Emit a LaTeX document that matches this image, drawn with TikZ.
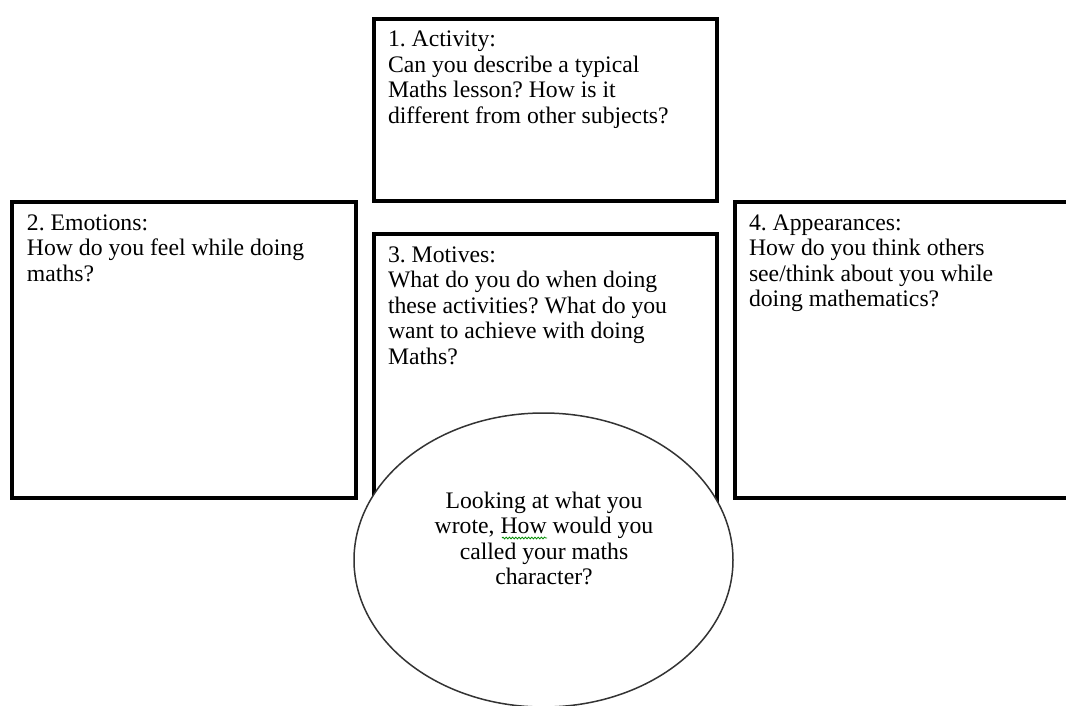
\documentclass[tikz,border=0pt]{standalone}
\usepackage{fontspec}
\setmainfont{Liberation Serif}
\usetikzlibrary{shapes.geometric,decorations.pathmorphing}
\frenchspacing

\tikzset{
  panel/.style={draw=black, line width=4pt, fill=white, rectangle, inner sep=0pt,
    anchor=north west},
  prompt/.style={inner sep=0pt, outer sep=0pt, align=left, anchor=north west,
    font=\fontsize{23.7}{25.5}\selectfont, text=black},
  bubble/.style={ellipse, draw=black!80, line width=1.5pt, fill=white, inner sep=0pt,
    minimum width=379pt, minimum height=294pt},
  bubbletext/.style={inner sep=0pt, outer sep=0pt, align=center, anchor=north,
    font=\fontsize{23.7}{25.3}\selectfont, text=black},
  spellmark/.style={draw=green!55!black, line width=0.8pt, decorate,
    decoration={snake, amplitude=0.9pt, segment length=3.2pt}}
}
% first-line strut so that each text block hangs 16pt above its first baseline
\newcommand\firststrut{\rule{0pt}{16pt}}

\begin{document}
\begin{tikzpicture}[x=1pt, y=-1pt]
  \path[use as bounding box, fill=white] (0,0) rectangle (1066,706);
  \clip (0,0) rectangle (1066,706);

  % the four question panels
  \node[panel, minimum width=343.3pt, minimum height=182pt] (activity) at (372,17) {};
  \node[panel, minimum width=343.7pt, minimum height=295.7pt] (emotions) at (10.3,200.3) {};
  \node[panel, minimum width=343.3pt, minimum height=300pt] (motives) at (372,232) {};
  \node[panel, minimum width=350pt, minimum height=295.7pt] (appearances) at (733,200.3) {};

  % panel texts
  \node[prompt] (activitytext) at (388,31) {\firststrut 1. Activity:\\
    Can you describe a typical\\ Maths lesson? How is it\\ different from other subjects?};
  \node[prompt] (emotionstext) at (27,214) {\firststrut 2. Emotions:\\
    How do you feel while doing\\ maths?};
  \node[prompt] (motivestext) at (388,246) {\firststrut 3. Motives:\\
    What do you do when doing\\ these activities? What do you\\
    want to achieve with doing\\ Maths?};
  \node[prompt] (appearancestext) at (749,214) {\firststrut 4. Appearances:\\
    How do you think others\\ see/think about you while\\ doing mathematics?};

  % central character bubble
  \node[bubble] (character) at (543.5,560) {};
  \node[bubbletext] (charactertext) at (544,492) {\firststrut Looking at what you\\
    wrote, How would you\\ called your maths\\ character?};

  % spell-check squiggle under "How"
  \coordinate (squigA) at (502,538);
  \coordinate (squigB) at (547,538);
  \draw[spellmark] (squigA) -- (squigB);
\end{tikzpicture}
\end{document}
